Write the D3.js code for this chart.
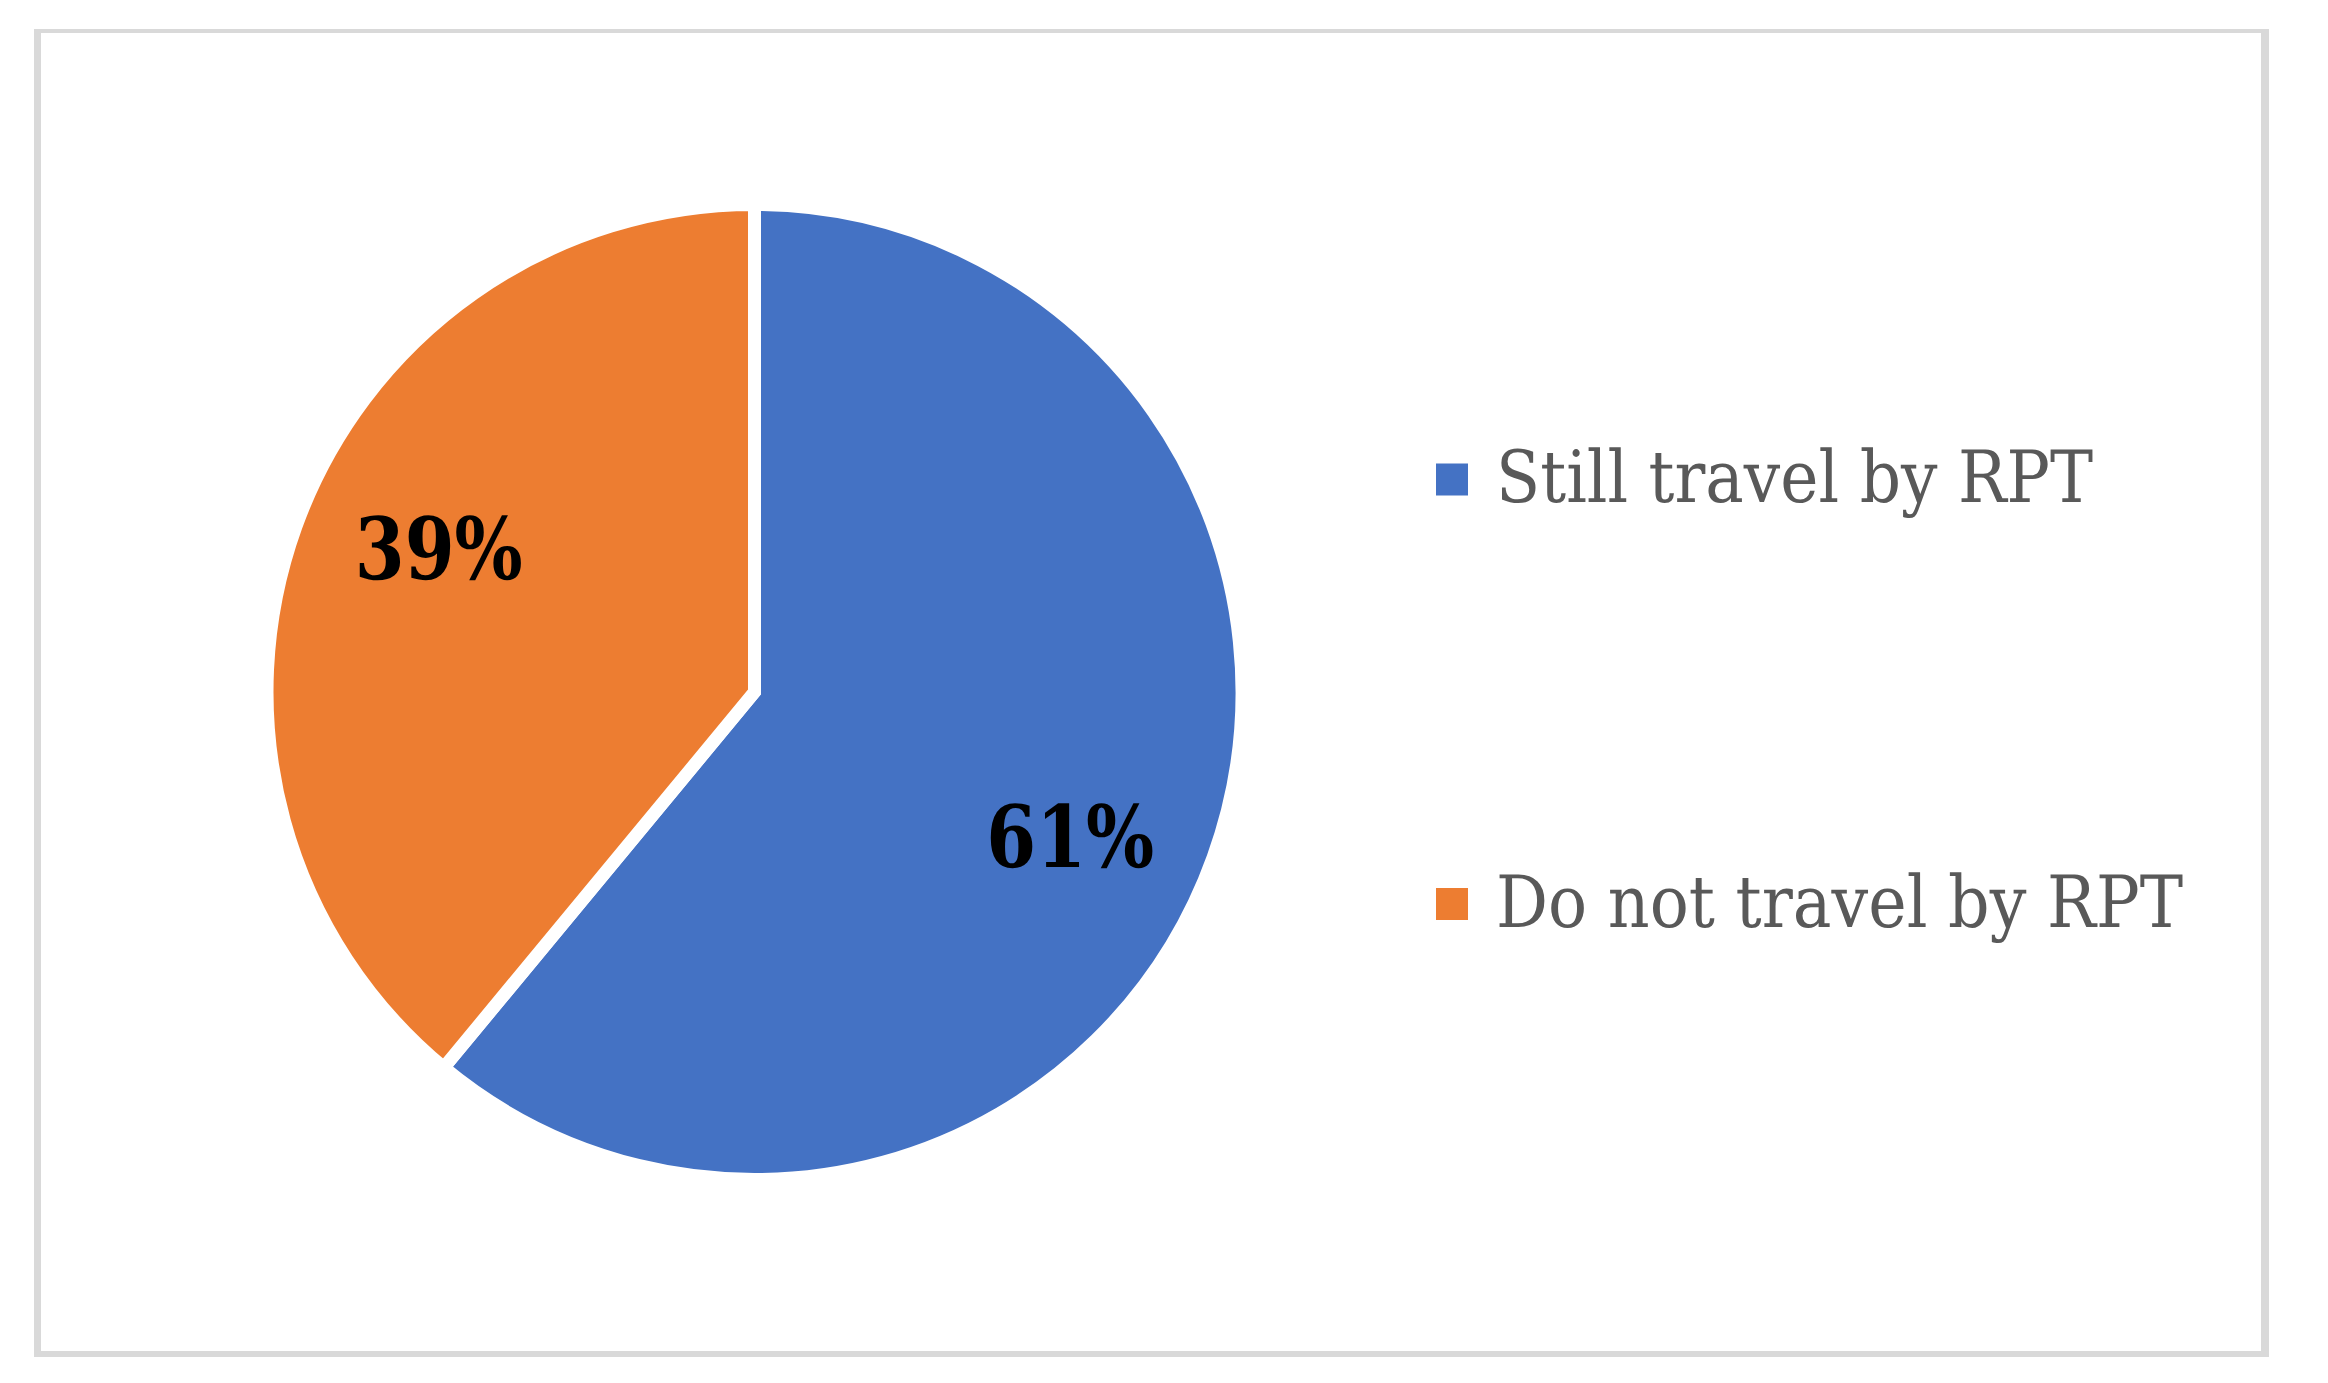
<!DOCTYPE html>
<html>
<head>
<meta charset="utf-8">
<script src="https://cdn.jsdelivr.net/npm/d3@7/dist/d3.min.js"></script>
<style>
html,body{margin:0;padding:0;background:#fff;}
svg{display:block;}
text{text-rendering:geometricPrecision;}
</style>
</head>
<body>
<svg id="chart" width="2328" height="1383"></svg>
<script>
const categories = ["Still travel by RPT", "Do not travel by RPT"];
const values = [61, 39];
const labels = ["61%", "39%"];
const colors = ["#4472c4", "#ed7d31"];

const W = 2328, H = 1383;
const svg = d3.select("#chart");

// frame
svg.append("rect").attr("x", 34).attr("y", 29).attr("width", 2235).attr("height", 1328).attr("fill", "#d9d9d9");
svg.append("rect").attr("x", 41).attr("y", 33).attr("width", 2220).attr("height", 1318).attr("fill", "#ffffff");

const cx = 754.5, cy = 692, R = 487.5;
const data = categories.map((c, i) => ({cat: c, value: values[i], label: labels[i], color: colors[i]}));

const pie = d3.pie().sort(null).value(d => d.value);
const arcs = pie(data);
const arc = d3.arc().innerRadius(0).outerRadius(R);

const g = svg.append("g").attr("transform", `translate(${cx},${cy})`);
g.selectAll("path.slice").data(arcs).enter().append("path")
  .attr("class", "slice")
  .attr("d", arc)
  .attr("fill", d => d.data.color)
  .attr("stroke", "#ffffff")
  .attr("stroke-width", 13)
  .attr("stroke-linejoin", "miter");

// fit text horizontally to a target width by scaling glyphs about an anchor x
function fitWidth(sel, targetW) {
  sel.each(function(d, i) {
    const t = d3.select(this);
    const x = +t.attr("x");
    const w = this.getComputedTextLength();
    const tw = typeof targetW === "function" ? targetW(d, i) : targetW;
    const s = tw / w;
    t.attr("transform", `translate(${x},0) scale(${s},1) translate(${-x},0)`);
  });
}

// data labels (best-fit like placement)
const labelR = 347, angleShift = 0.082;
const lbls = g.selectAll("text.lbl").data(arcs).enter().append("text")
  .attr("class", "lbl")
  .each(function(d) {
    const a = (d.startAngle + d.endAngle) / 2 + angleShift;
    const x = labelR * Math.sin(a), y = -labelR * Math.cos(a);
    d3.select(this).attr("x", x).attr("y", y + 31);
  })
  .attr("text-anchor", "middle")
  .attr("font-family", "'DejaVu Serif', 'Liberation Serif', serif")
  .attr("font-weight", "bold")
  .attr("font-size", 86)
  .attr("fill", "#000000")
  .text(d => d.data.label);
fitWidth(lbls, 168);

// legend
const legendY = d3.scalePoint().domain(categories).range([479.5, 904]);
const legendWidths = [597, 687];
const lg = svg.append("g");
const items = lg.selectAll("g.item").data(data).enter().append("g").attr("class", "item");
items.append("rect")
  .attr("x", 1436)
  .attr("y", d => legendY(d.cat) - 16)
  .attr("width", 32).attr("height", 32)
  .attr("fill", d => d.color);
const ltxt = items.append("text")
  .attr("x", 1496)
  .attr("y", d => legendY(d.cat) + 22.5)
  .attr("font-family", "'DejaVu Serif', 'Liberation Serif', serif")
  .attr("font-size", 72)
  .attr("fill", "#595959")
  .text(d => d.cat);
fitWidth(ltxt, (d, i) => legendWidths[i]);
</script>
</body>
</html>
